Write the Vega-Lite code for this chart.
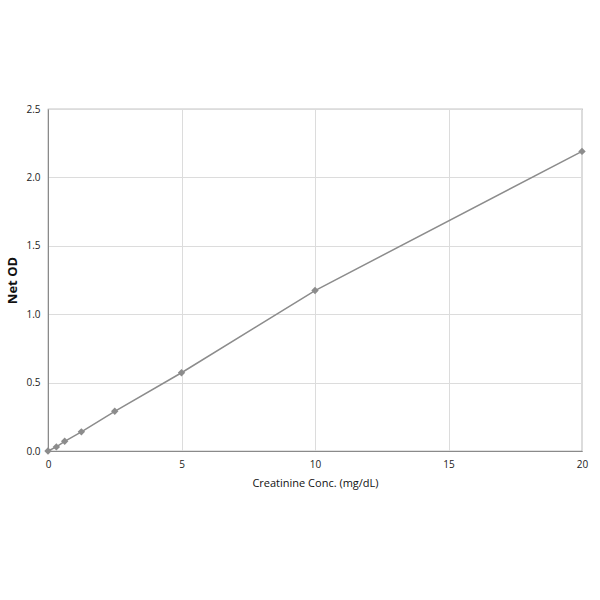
{
  "$schema": "https://vega.github.io/schema/vega-lite/v6.json",
  "autosize": {"type": "none"},
  "padding": {"left": 48, "top": 109, "right": 18, "bottom": 149},
  "width": 534,
  "height": 342,
  "background": "white",
  "data": {
    "values": [
      {"conc": 0, "od": 0.0},
      {"conc": 0.3125, "od": 0.03},
      {"conc": 0.625, "od": 0.071},
      {"conc": 1.25, "od": 0.14},
      {"conc": 2.5, "od": 0.29},
      {"conc": 5, "od": 0.572},
      {"conc": 10, "od": 1.173},
      {"conc": 20, "od": 2.19}
    ]
  },
  "encoding": {
    "x": {
      "field": "conc",
      "type": "quantitative",
      "title": "Creatinine Conc. (mg/dL)",
      "scale": {"domain": [0, 20], "nice": false},
      "axis": {"values": [0, 5, 10, 15, 20], "titlePadding": 8, "labelFlush": false}
    },
    "y": {
      "field": "od",
      "type": "quantitative",
      "title": "Net OD",
      "scale": {"domain": [0, 2.5], "nice": false},
      "axis": {
        "values": [0, 0.5, 1, 1.5, 2, 2.5],
        "format": ".1f",
        "labelFlush": false,
        "titleFontWeight": "bold",
        "titleFontSize": 13,
        "titlePadding": 6
      }
    }
  },
  "layer": [
    {"mark": {"type": "line", "color": "#8c8c8c", "strokeWidth": 1.5}},
    {"mark": {"type": "point", "shape": "diamond", "filled": true, "color": "#8c8c8c", "opacity": 1, "size": 55}}
  ],
  "config": {
    "font": "Open Sans",
    "view": {"stroke": "#8a8a8a", "strokeWidth": 1.2},
    "axis": {
      "grid": true,
      "gridColor": "#dcdcdc",
      "gridWidth": 1,
      "domainColor": "#8a8a8a",
      "ticks": false,
      "labelPadding": 8,
      "labelFontSize": 10,
      "labelColor": "#222",
      "titleColor": "#111",
      "titleFontSize": 11,
      "titleFontWeight": "normal"
    }
  }
}
